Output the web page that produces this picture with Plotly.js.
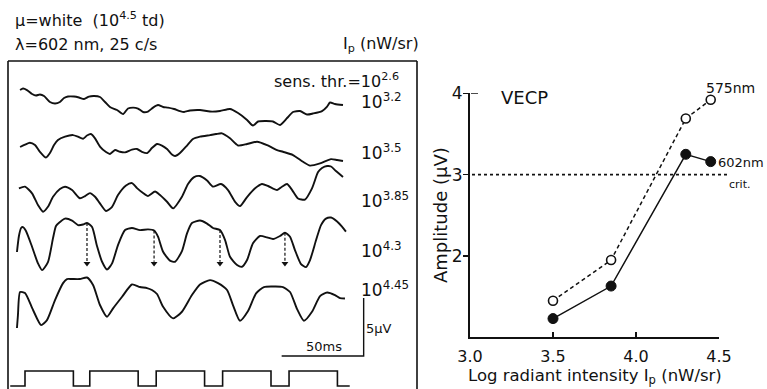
<!DOCTYPE html>
<html>
<head>
<meta charset="utf-8">
<script src="https://cdn.plot.ly/plotly-3.0.1.min.js"></script>
<style>
  html, body { margin: 0; padding: 0; background: #fff; }
  #chart { width: 767px; height: 389px; }
</style>
</head>
<body>
<div id="chart"></div>
<script>
// ---------------- Data ----------------
// Evoked responses (µV, relative to each trace's own baseline) against time (ms).
// One record per radiant intensity of the 602 nm probe, log10(nW/sr).
const intensityLabels = ['3.2', '3.5', '3.85', '4.3', '4.45'];
const sensThreshold = '2.6';

const time32 = [-3.0,-1.2,1.2,4.3,6.7,9.1,11.6,15.2,18.3,21.3,23.8,26.2,29.9,32.9,36.0,39.0,42.1,45.7,48.8,51.8,56.1,59.8,62.8,65.9,68.9,72.0,75.0,78.1,81.1,84.2,87.2,90.9,94.5,97.0,100.6,106.7,112.8,118.9,125.0,129.9,135.4,139.0,142.1,147.0,151.2,155.5,159.8,163.4,167.7,172.0,175.6,181.1,184.2,186.0,189.0,193.9];
const resp32 = [1.29,1.42,1.29,0.95,0.82,0.91,0.78,0.26,0.13,0.26,0.60,0.73,0.73,0.65,0.52,0.73,0.78,0.69,0.26,-0.17,-0.43,-0.78,-0.30,-0.22,-0.30,-0.60,-0.56,-0.22,0,-0.17,-0.22,-0.34,-0.52,-0.60,-0.47,-0.43,-0.56,-0.52,-0.34,-0.69,-1.29,-1.77,-1.42,-1.38,-1.42,-1.72,-1.12,-0.60,-0.52,-0.82,-0.73,-0.52,-0.13,0.22,0.09,0];

const time35 = [-3.0,0,3.0,6.1,9.1,12.8,15.2,17.7,20.1,24.4,29.3,32.3,35.4,37.8,40.2,42.7,45.7,49.4,51.8,54.9,57.9,61.0,65.2,68.3,71.3,74.4,77.4,80.5,83.5,86.6,89.6,91.5,94.5,98.8,102.4,106.7,112.8,116.5,120.1,125.0,129.9,135.4,141.5,147.6,153.7,157.3,163.4,169.5,173.8,179.9,186.6,190.3,193.9];
const resp35 = [0.26,0.47,0.63,0.43,-0.15,-0.65,-0.26,0.43,0.86,1.15,1.29,1.15,0.97,1.25,1.38,1.01,0.30,-0.17,-0.34,0,-0.15,-0.20,0.04,0.09,-0.15,-0.26,0.17,0.52,0.39,0.09,-0.39,-0.52,-0.26,0.39,0.95,1.15,1.29,1.38,1.44,1.01,0.39,0.52,0.72,0.43,0,-0.15,-0.43,-1.01,-1.34,-1.15,-0.78,-0.86,-0.95];

const time385 = [-3.7,0,4.3,7.9,11.0,14.0,17.1,21.3,24.4,28.7,33.5,36.6,39.6,42.7,45.7,49.4,53.1,56.7,61.6,65.2,68.3,72.0,75.0,79.3,82.3,86.6,90.3,95.7,99.4,103.1,106.7,111.0,114.6,119.5,123.8,128.1,131.1,135.4,140.3,144.5,148.2,153.7,156.7,159.8,162.9,166.5,170.7,175.0,178.7,181.1,184.2,186.6,189.6,193.9];
const resp385 = [0.58,0.72,0.15,-0.86,-1.44,-1.01,-0.15,0.52,0.72,0.43,-0.28,-0.09,0.17,-0.15,-0.72,-1.38,-1.01,0,0.82,1.03,0.60,0.17,-0.09,0.30,0,-0.58,-1.15,-0.15,0.95,1.55,1.64,1.25,0.73,0.95,0.43,-0.58,-0.95,-0.17,0.58,0.95,0.78,0.43,0.72,0.95,0.43,-0.30,-0.39,0.58,1.98,2.33,2.50,2.46,2.07,1.55];

const time43 = [-4.9,-3.7,-2.4,-1.2,0.6,4.3,7.9,10.4,14.0,17.1,18.9,21.3,24.4,28.7,32.3,35.4,37.8,40.9,43.9,47.0,50.0,53.1,56.7,61.0,65.2,70.1,75.0,78.7,81.1,84.2,88.4,91.5,95.7,98.8,101.8,106.7,111.0,114.6,118.9,122.0,125.0,129.3,132.3,135.4,139.0,143.3,147.6,151.2,155.5,158.5,161.6,164.6,168.3,171.3,173.8,177.5,180.5,183.5,186.6,190.3,193.3,195.7];
const resp43 = [-0.60,0.78,1.47,1.55,1.21,-0.15,-1.58,-2.16,-1.47,0.60,1.64,1.98,2.28,2.11,1.72,1.77,1.90,1.55,-0.09,-1.44,-2.11,-1.58,0,1.29,1.47,1.29,1.35,1.25,0.72,-0.58,-1.34,-1.44,-0.52,1.01,1.90,2.11,1.85,1.47,1.29,0.43,-1.01,-1.72,-1.87,-1.29,0.15,0.78,0.66,0.52,0.78,1.06,0.72,-0.43,-1.64,-1.90,-1.29,0.43,1.72,2.28,2.37,2.03,1.59,1.16];

const time445 = [-4.9,-4.3,-3.0,0,4.9,9.8,13.4,18.3,23.2,25.6,28.7,33.5,37.8,41.5,45.7,50.0,53.7,59.2,65.2,70.1,74.4,77.4,80.5,84.2,90.3,95.7,101.8,106.7,112.8,117.7,123.2,126.8,131.1,136.0,140.9,145.7,152.4,157.3,161.6,165.9,170.1,175.0,179.9,184.2,189.0,192.1,195.1];
const resp445 = [-2.84,-1.72,0.26,0.17,-1.29,-2.59,-2.16,-0.43,1.03,1.38,1.38,1.38,1.51,0.86,-0.86,-1.87,-1.15,-0.15,0.91,0.69,0.60,0.43,0.09,-1.01,-2.01,-1.44,0,0.91,1.29,1.03,0.43,-0.86,-2.22,-1.38,0.15,0.69,0.73,0.69,0.26,-1.21,-2.22,-1.44,-0.09,0.22,0,-0.26,-0.30];

// Latency markers on the 10^4.3 record (ms) and where they point (µV)
const markerTimes = [37.8, 78.7, 118.9, 158.5];
const markerTipUv = -1.6;

// Stimulus timing: 25 c/s on/off edges (ms) and level (1 = on)
const stimEdges = [-9, 0, 29.5, 39.5, 69, 80, 109.5, 120.5, 150, 161, 190.5, 198];
const stimLevel = [0, 1, 0, 1, 0, 1, 0, 1, 0, 1, 0, 0];

// Calibration bars
const calMs = 50;
const calUv = 5;

// Amplitude vs log radiant intensity
const logIntensity = [3.5, 3.85, 4.3, 4.45];
const amp575 = [1.45, 1.95, 3.69, 3.92];
const amp602 = [1.23, 1.63, 3.25, 3.16];
const critAmp = 3;

// ---------------- Drawing ----------------
const W = 767, H = 389;
const FONT = 'DejaVu Sans, Liberation Sans, Arial, sans-serif';
const INK = '#111';
const px = p => p / W;          // page x (px) -> paper
const py = p => 1 - p / H;      // page y (px) -> paper

const records = [
  [time32, resp32], [time35, resp35], [time385, resp385], [time43, resp43], [time445, resp445]
];
// vertical stacking of the records on the µV axis
const stackLevels = [24.48, 20.60, 16.72, 12.41, 8.10];

const traces = [];
records.forEach(([t, v], i) => {
  const n = Math.min(t.length, v.length);
  traces.push({
    x: t.slice(0, n), y: v.slice(0, n).map(u => u + stackLevels[i]),
    xaxis: 'x', yaxis: 'y', mode: 'lines', hoverinfo: 'skip',
    line: { color: INK, width: 1.9, shape: 'spline', smoothing: 0.6 }
  });
});

// dashed latency arrows on the 10^4.3 record
const base43 = stackLevels[3];
markerTimes.forEach(mt => {
  let k = 0;
  time43.forEach((tt, j) => { if (Math.abs(tt - mt) < Math.abs(time43[k] - mt)) k = j; });
  traces.push({
    x: [mt, mt], y: [resp43[k] + base43, markerTipUv + 0.15 + base43],
    xaxis: 'x', yaxis: 'y', mode: 'lines', hoverinfo: 'skip',
    line: { color: INK, width: 1.2, dash: '3px,2px' }
  });
});
traces.push({
  x: markerTimes, y: markerTimes.map(() => markerTipUv + base43),
  xaxis: 'x', yaxis: 'y', mode: 'markers', hoverinfo: 'skip',
  marker: { symbol: 'triangle-down', size: 6, color: INK }
});

// stimulus square wave
traces.push({
  x: stimEdges, y: stimLevel, xaxis: 'x', yaxis: 'y3', mode: 'lines', hoverinfo: 'skip',
  line: { color: INK, width: 1.6, shape: 'hv' }
});

// amplitude curves
traces.push({
  x: logIntensity, y: amp575, xaxis: 'x2', yaxis: 'y2', mode: 'lines+markers', hoverinfo: 'skip',
  line: { color: INK, width: 1.5, dash: '4px,3px' },
  marker: { symbol: 'circle', size: 9, color: '#fff', line: { color: INK, width: 1.6 } }
});
traces.push({
  x: logIntensity, y: amp602, xaxis: 'x2', yaxis: 'y2', mode: 'lines+markers', hoverinfo: 'skip',
  line: { color: INK, width: 1.5 },
  marker: { symbol: 'circle', size: 10, color: INK, line: { color: INK, width: 1 } }
});

function lab(text, x, y, size, anchor, extra) {
  return Object.assign({
    xref: 'paper', yref: 'paper', x: px(x), y: py(y),
    xanchor: anchor || 'left', yanchor: 'middle', text: text, showarrow: false,
    font: { family: FONT, size: size, color: INK }
  }, extra || {});
}

const annotations = [
  lab('\u03bc=white  (10<sup>4.5</sup> td)', 13, 19, 16),
  lab('\u03bb=602 nm, 25 c/s', 13, 44, 16),
  lab('I<sub>p</sub> (nW/sr)', 341, 44, 16),
  lab('sens. thr.=10<sup>' + sensThreshold + '</sup>', 272, 81, 16),
  lab(calUv + '\u03bcV', 364, 328, 13),
  lab(calMs + 'ms', 304, 346, 13),
  lab('VECP', 499, 97, 18),
  lab('575nm', 704, 88, 14),
  lab('602nm', 716, 162, 13),
  lab('crit.', 727, 185, 11),
  lab('Log radiant intensity I<sub>p</sub> (nW/sr)', 595, 376, 16.5, 'center'),
  lab('Amplitude (\u03bcV)', 440, 215, 18, 'center', { textangle: -90 })
];
const labelRows = [101, 152, 200, 250, 289];
intensityLabels.forEach((s, i) => annotations.push(lab('10<sup>' + s + '</sup>', 359, labelRows[i], 17)));

// calibration bar anchor (ms, µV)
const calT0 = 156.5, calV0 = 2.84;

const shapes = [
  // frame round the records
  { type: 'line', xref: 'paper', yref: 'paper', x0: px(8), x1: px(8), y0: py(61), y1: py(395), line: { color: INK, width: 1.6 } },
  { type: 'line', xref: 'paper', yref: 'paper', x0: px(8), x1: px(417), y0: py(61), y1: py(61), line: { color: INK, width: 1.6 } },
  { type: 'line', xref: 'paper', yref: 'paper', x0: px(417), x1: px(417), y0: py(61), y1: py(395), line: { color: INK, width: 1.6 } },
  // calibration bars
  { type: 'path', xref: 'x', yref: 'y',
    path: `M ${calT0} ${calV0} L ${calT0 + calMs} ${calV0} L ${calT0 + calMs} ${calV0 + calUv}`,
    line: { color: INK, width: 1.4 } },
  // criterion level
  { type: 'line', xref: 'paper', yref: 'y2', x0: px(472), x1: px(728), y0: critAmp, y1: critAmp,
    line: { color: INK, width: 1.6, dash: 'dot' } },
  // top tick of the amplitude axis
  { type: 'line', xref: 'paper', yref: 'y2', x0: px(471), x1: px(478), y0: 4, y1: 4, line: { color: INK, width: 1.5 } }
];

const msPerPx = 1 / 1.64;
const layout = {
  width: W, height: H,
  margin: { l: 0, r: 0, t: 0, b: 0, pad: 0 },
  paper_bgcolor: '#fff', plot_bgcolor: 'rgba(0,0,0,0)',
  showlegend: false,
  font: { family: FONT, color: INK },
  xaxis: { domain: [0, px(417)], range: [(0 - 25) * msPerPx, (417 - 25) * msPerPx], visible: false, fixedrange: true },
  yaxis: { domain: [0, 1], range: [0, H / 11.6], visible: false, fixedrange: true },
  yaxis3: { domain: [0, py(365)], range: [-0.2, 1.4], anchor: 'x', visible: false, fixedrange: true },
  xaxis2: {
    domain: [px(470), px(719)], range: [3, 4.5], anchor: 'y2',
    tickvals: [3, 3.5, 4, 4.5], ticktext: ['3.0', '3.5', '4.0', '4.5'],
    ticks: 'inside', ticklen: 5, tickwidth: 1.5, tickcolor: INK,
    showline: true, linewidth: 2, linecolor: INK, showgrid: false, zeroline: false,
    tickfont: { family: FONT, size: 16, color: INK }, ticklabelstandoff: 3, automargin: false
  },
  yaxis2: {
    domain: [py(337.3), py(93.3)], range: [1, 4], anchor: 'x2',
    tickvals: [2, 3, 4], ticks: 'outside', ticklen: 5, tickwidth: 1.5, tickcolor: INK,
    showline: true, linewidth: 2, linecolor: INK, showgrid: false, zeroline: false,
    tickfont: { family: FONT, size: 17, color: INK }, ticklabelstandoff: -3, automargin: false
  },
  annotations: annotations,
  shapes: shapes
};

Plotly.newPlot('chart', traces, layout, { staticPlot: true, displayModeBar: false });
</script>
</body>
</html>
